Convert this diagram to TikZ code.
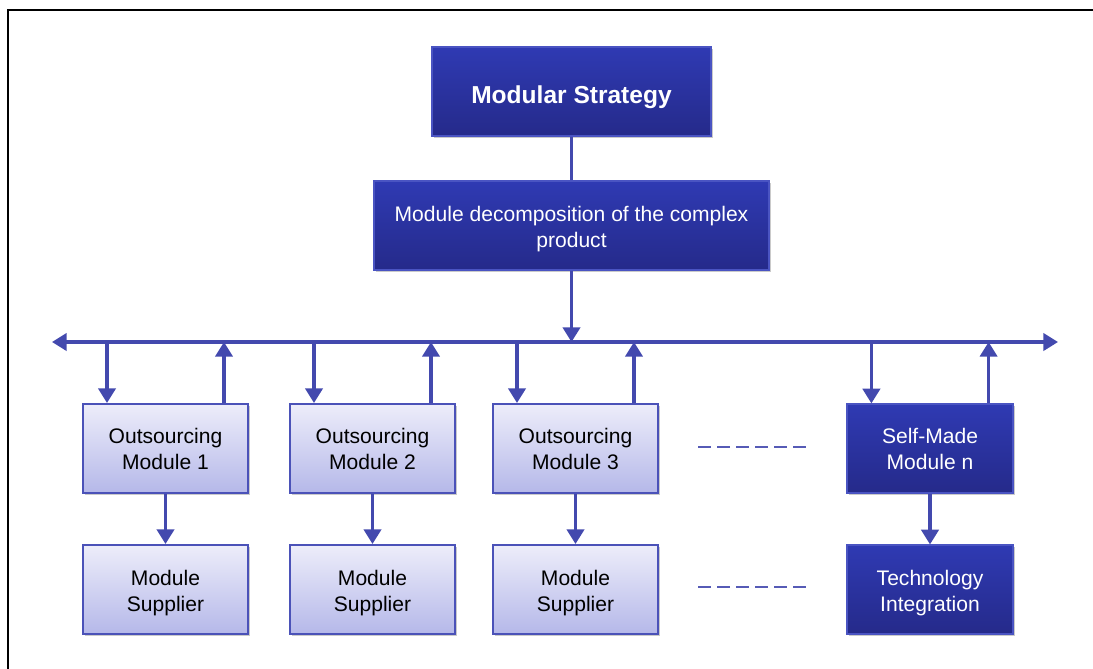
\documentclass[tikz,border=0pt]{standalone}
\usepackage{fontspec}
\setmainfont{Liberation Sans}
\usetikzlibrary{arrows.meta,shadows}

\definecolor{darktop}{HTML}{2F3AB3}
\definecolor{darkbot}{HTML}{252A8A}
\definecolor{darkedge}{HTML}{4A54C2}
\definecolor{lighttop}{HTML}{EDEDFA}
\definecolor{lightbot}{HTML}{B5B8E9}
\definecolor{lightedge}{HTML}{4B52B8}
\definecolor{linkblue}{HTML}{4349AE}

% two centred lines, lowered by #1 without changing the box size
\newcommand{\twolines}[3]{\raisebox{-#1}[\height][\depth]{\begin{tabular}{@{}c@{}}#2\\#3\end{tabular}}}

\tikzset{
  boxsize/.style 2 args={minimum width={#1*0.75pt}, minimum height={#2*0.75pt}, inner sep=0pt},
  basebox/.style={rectangle, align=center, font=\fontsize{15.8}{19.5}\selectfont,
    drop shadow={shadow xshift=1.2pt, shadow yshift=-1.2pt, opacity=0.35, fill=black!60}},
  darkbox/.style={basebox, top color=darktop, bottom color=darkbot, draw=darkedge,
    line width=0.9pt, text=white},
  lightbox/.style={basebox, top color=lighttop, bottom color=lightbot, draw=lightedge,
    line width=1.5pt, text=black},
  link/.style={draw=linkblue, line width=2.3pt},
  arr/.style={link, -{Triangle[width=13pt,length=11pt]}},
  busarr/.style={link, {Triangle[width=13pt,length=11pt]}-{Triangle[width=13pt,length=11pt]}},
  gap/.style={draw=linkblue!90, line width=1.5pt, dash pattern=on 9.75pt off 4.5pt},
}

\begin{document}
\begin{tikzpicture}[x=0.75pt, y=-0.75pt]
  \useasboundingbox (0,0) rectangle (1093,668);
  % outer frame, running past the page on the right and bottom
  \begin{scope}
    \clip (0,0) rectangle (1093,668);
    \draw[line width=1.5pt] (8,10) rectangle (1200,800);
  \end{scope}

  % top of the hierarchy
  \node[darkbox, boxsize={279}{89}, font=\bfseries\fontsize{18.4}{22}\selectfont]
    (ms) at (571.5,91.5) {\raisebox{-4pt}[\height][\depth]{Modular Strategy}};
  \node[darkbox, boxsize={395}{89}] (md) at (571.5,225.5)
    {\twolines{3pt}{Module decomposition of the complex}{product}};

  % first row of modules
  \node[lightbox, boxsize={165}{89}] (o1) at (165.5,448.5) {Outsourcing\\Module 1};
  \node[lightbox, boxsize={165}{89}] (o2) at (372.5,448.5) {Outsourcing\\Module 2};
  \node[lightbox, boxsize={165}{89}] (o3) at (575.5,448.5) {Outsourcing\\Module 3};
  \node[darkbox,  boxsize={166}{89}] (sm) at (930,448.5)   {Self-Made\\Module n};

  % second row
  \node[lightbox, boxsize={165}{89}] (s1) at (165.5,589.5) {\twolines{3pt}{Module}{Supplier}};
  \node[lightbox, boxsize={165}{89}] (s2) at (372.5,589.5) {\twolines{3pt}{Module}{Supplier}};
  \node[lightbox, boxsize={165}{89}] (s3) at (575.5,589.5) {\twolines{3pt}{Module}{Supplier}};
  \node[darkbox,  boxsize={166}{89}] (ti) at (930,589.5)   {\twolines{3pt}{Technology}{Integration}};

  % shared bus
  \coordinate (busL) at (52,342);
  \coordinate (busR) at (1058,342);
  \draw[busarr] (busL) -- (busR);

  \draw[link] (ms.south) -- (md.north);
  \draw[arr] (md.south) -- (md.south |- busL);

  % links between the bus and each module
  \foreach \m in {o1,o2,o3,sm}{
    \path (\m.north west) ++(25,0) coordinate (\m-in);
    \path (\m.north east) ++(-25,0) coordinate (\m-out);
    \draw[arr] (\m-in |- busL) -- (\m-in);
    \draw[arr] (\m-out) -- (\m-out |- busL);
  }

  % module to second row
  \draw[arr] (o1.south) -- (s1.north);
  \draw[arr] (o2.south) -- (s2.north);
  \draw[arr] (o3.south) -- (s3.north);
  \draw[arr] (sm.south) -- (ti.north);

  % elided modules
  \coordinate (g1a) at (698,447);
  \coordinate (g1b) at (810,447);
  \coordinate (g2a) at (698,587);
  \coordinate (g2b) at (810,587);
  \draw[gap] (g1a) -- (g1b);
  \draw[gap] (g2a) -- (g2b);
\end{tikzpicture}
\end{document}
